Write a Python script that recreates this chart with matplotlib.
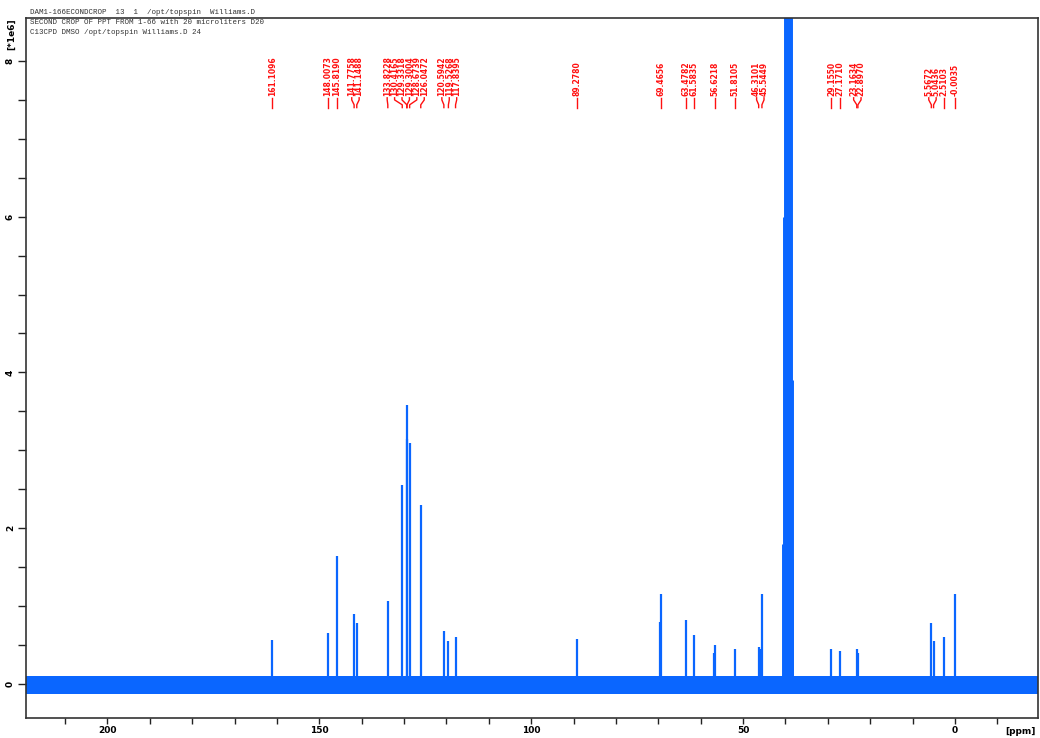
import matplotlib
matplotlib.use('Agg')

import numpy as np
import matplotlib.pyplot as plt
import matplotlib.transforms as mtransforms

# header lines as printed by topspin
header_lines = ["DAM1-166ECONDCROP  13  1  /opt/topspin  Williams.D",
                "SECOND CROP OF PPT FROM 1-66 with 20 microliters D20",
                "C13CPD DMSO /opt/topspin Williams.D 24"]

# labelled peaks (ppm) and heights [*1e6]
label_ppm = [161.1096, 148.0073, 145.8190, 141.7758, 141.1488, 133.8228,
             130.4165, 129.3318, 129.3004, 128.6739, 126.0472, 120.5942,
             119.5268, 117.8395, 89.2780, 69.4656, 63.4782, 61.5835,
             56.6218, 51.8105, 46.3101, 45.5449, 29.1550, 27.1710,
             23.1634, 22.8970, 5.5672, 5.0436, 2.5103, -0.0035]
label_height = [0.57, 0.65, 1.65, 0.90, 0.78, 1.07,
                2.55, 3.58, 3.15, 3.10, 2.30, 0.68,
                0.55, 0.60, 0.58, 1.15, 0.82, 0.63,
                0.50, 0.45, 0.48, 1.15, 0.45, 0.42,
                0.45, 0.40, 0.78, 0.55, 0.60, 1.15]

# unlabelled shoulders
extra_ppm = [69.70, 56.95, 45.85]
extra_height = [0.80, 0.40, 0.45]

# DMSO-d6 septet (clipped at the top)
dmso_ppm = [40.06, 39.85, 39.65, 39.44, 39.23, 39.02, 38.81]
dmso_height = [1.8, 6.0, 11.0, 13.0, 11.0, 3.9, 1.6]

# baseline noise band
noise_low, noise_high = -0.13, 0.10

xlims = (219.2, -19.6)
ylims = (-0.436, 8.55)

blue = '#0a66ff'
red = '#ff1010'


def spread_labels(xs, sep):
    """Push label positions apart so they are at least sep apart."""
    order = np.argsort(xs)
    groups = [[xs[i]] for i in order]
    merged = True
    while merged:
        merged = False
        out = []
        for g in groups:
            if out:
                prev = out[-1]
                cp = np.mean(prev)
                cg = np.mean(g)
                prev_hi = cp + (len(prev) - 1) / 2. * sep
                g_lo = cg - (len(g) - 1) / 2. * sep
                if g_lo - prev_hi < sep:
                    out[-1] = prev + g
                    merged = True
                    continue
            out.append(g)
        groups = out
    pos = []
    for g in groups:
        c = np.mean(g)
        n = len(g)
        pos += [c + (i - (n - 1) / 2.) * sep for i in range(n)]
    res = np.empty(len(xs))
    res[order] = pos
    return res


fig = plt.figure(figsize=(10.4, 7.38), dpi=100)
ax = fig.add_axes([26 / 1040., 20 / 738., 1012 / 1040., 700 / 738.])

ax.fill_between(xlims, noise_low, noise_high, color=blue, lw=0)
ax.vlines(label_ppm, 0, label_height, color=blue, lw=1.6)
ax.vlines(extra_ppm, 0, extra_height, color=blue, lw=1.6)
ax.vlines(dmso_ppm, 0, dmso_height, color=blue, lw=5)

ax.set_xlim(*xlims)
ax.set_ylim(*ylims)

ax.set_xticks([200, 150, 100, 50, 0])
ax.set_xticks(np.arange(-10, 220, 10), minor=True)
ax.set_yticks([0, 2, 4, 6, 8])
ax.set_yticks(np.arange(0, 8.5, 0.5), minor=True)
ax.tick_params(axis='both', which='both', direction='out', width=1, color='#222222')
ax.tick_params(axis='x', which='both', length=4)
ax.tick_params(axis='y', which='both', length=6)
ax.tick_params(axis='x', labelsize=6.5, pad=1.5)
ax.tick_params(axis='y', labelsize=6.5, pad=2, labelrotation=90)
for lab in ax.get_xticklabels() + ax.get_yticklabels():
    lab.set_fontweight('bold')
for lab in ax.get_yticklabels():
    lab.set_va('center')
for sp in ax.spines.values():
    sp.set_linewidth(1.2)
    sp.set_color('#333333')

# peak labels
trans = mtransforms.blended_transform_factory(ax.transData, ax.transAxes)
sep = 1.75
lab_x = spread_labels(np.array(label_ppm), sep)
for lx, px, val in zip(lab_x, label_ppm, label_ppm):
    ax.text(lx, 0.889, '%.4f' % val, rotation=90, ha='center', va='bottom',
            color=red, fontsize=5.5, fontweight='bold', transform=trans)
    ax.plot([lx, lx, px, px], [0.886, 0.883, 0.876, 0.872], color=red, lw=1,
            transform=trans, clip_on=False)

# header text
for i, line in enumerate(header_lines):
    fig.text(30 / 1040., 1 - (12 + 10.5 * i) / 738., line, family='Liberation Mono',
             fontsize=5.4, va='center', ha='left', color='#333333')

fig.text(12 / 1040., 1 - 34 / 738., '[*1e6]', rotation=90, fontsize=6.5,
         fontweight='bold', ha='center', va='center')
fig.text(1020 / 1040., 1 - 731 / 738., '[ppm]', fontsize=6.5,
         fontweight='bold', ha='center', va='center')

fig.savefig('out.png', dpi=100)
